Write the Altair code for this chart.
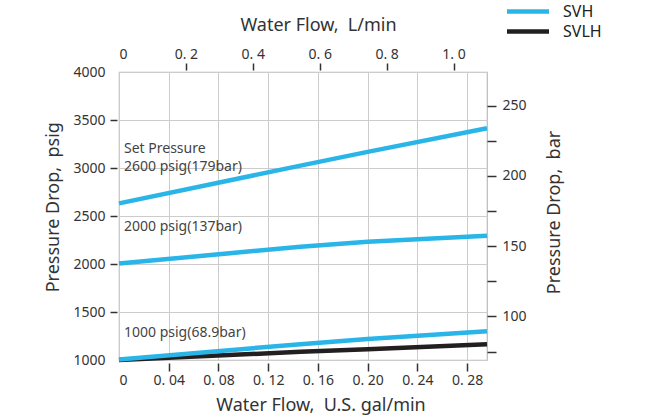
import altair as alt
import pandas as pd

# ---- data ----
flow_gpm = [0.0, 0.146, 0.200, 0.296]          # U.S. gal/min
svh_2600 = [2632, 3025, 3168, 3414]            # psig
svh_2000 = [2005, 2180, 2232, 2295]
svh_1000 = [1005, 1165, 1219, 1300]
svlh_1000 = [1000, 1085, 1112, 1164]

models = ["SVH", "SVLH"]
model_colors = ["#29b5e8", "#231f20"]

note_texts = ["Set Pressure", "2600 psig(179bar)", "2000 psig(137bar)", "1000 psig(68.9bar)"]
note_psig = [3195, 3007, 2382, 1284]
note_flow = [0.0, 0.0, 0.0, 0.0]

psig_ticks = [1000, 1250, 1500, 1750, 2000, 2250, 2500, 2750, 3000, 3250, 3500, 3750, 4000]
bar_ticks = [75, 100, 125, 150, 175, 200, 225, 250]
gpm_ticks = [0, 0.02, 0.04, 0.06, 0.08, 0.10, 0.12, 0.14, 0.16, 0.18, 0.20, 0.22, 0.24, 0.26, 0.28]
lpm_ticks = [0, 0.2, 0.4, 0.6, 0.8, 1.0]

GPM_DOMAIN = [0, 0.296]
LPM_DOMAIN = [0, 1.1]
PSIG_DOMAIN = [1000, 4000]
BAR_DOMAIN = [69, 274]
FONT = "Noto Sans"
SP = ",\u00a0 "   # wide gap after the comma, as in the reference

rows = []
for model, setp, vals in [("SVH", "2600", svh_2600), ("SVH", "2000", svh_2000),
                          ("SVH", "1000", svh_1000), ("SVLH", "1000", svlh_1000)]:
    for f, v in zip(flow_gpm, vals):
        rows.append({"model": model, "curve": model + setp, "gpm": f, "psig": v})
df = pd.DataFrame(rows)
notes = pd.DataFrame({"text": note_texts, "psig": note_psig, "gpm": note_flow})

color = alt.Color(
    "model:N",
    scale=alt.Scale(domain=models, range=model_colors),
    legend=alt.Legend(
        orient="none", legendX=399.5, legendY=-70, title=None,
        symbolType="M-3,0H3", symbolSize=196, symbolStrokeWidth=4.5,
        labelFont=FONT, labelFontSize=16, labelColor="#222",
        labelOffset=25.5, rowPadding=1, padding=0,
    ),
)

x_bottom = alt.X(
    "gpm:Q",
    scale=alt.Scale(domain=GPM_DOMAIN, nice=False, zero=False),
    axis=alt.Axis(
        orient="bottom", values=gpm_ticks, offset=3, tickSize=8, labelPadding=2,
        labelExpr="datum.value == 0 ? '0' : (round(datum.value*100) % 4 == 0 ? replace(format(datum.value, '.2f'), '.', '. ') : '')",
        tickOpacity={"condition": {"test": "datum.value == 0", "value": 0}, "value": 1},
        grid=True,
        gridOpacity={"condition": {"test": "round(datum.value*100) % 4 == 0", "value": 1}, "value": 0},
        title="Water Flow" + SP + "U.S. gal/min", titleX=201.5, titleY=42,
        titleAlign="center", titleBaseline="middle",
    ),
)
y_left = alt.Y(
    "psig:Q",
    scale=alt.Scale(domain=PSIG_DOMAIN, nice=False, zero=False),
    axis=alt.Axis(
        orient="left", values=psig_ticks, offset=2, tickSize=7, labelPadding=5, format="d",
        labelExpr="datum.value % 500 == 0 ? datum.label : ''",
        tickOpacity={"condition": {"test": "datum.value == 1000 || datum.value == 4000", "value": 0}, "value": 1},
        grid=True,
        gridOpacity={"condition": {"test": "datum.value % 500 == 0", "value": 1}, "value": 0},
        title="Pressure Drop" + SP + "psig", titleX=-64, titleY=134.7, titleAngle=-90,
        titleAlign="center", titleBaseline="middle",
    ),
)

base = alt.Chart(df)
svlh = base.transform_filter("datum.model == 'SVLH'").mark_line(strokeWidth=4.5, strokeCap="butt").encode(
    x=x_bottom, y=y_left, color=color, detail="curve:N")
svh = base.transform_filter("datum.model == 'SVH'").mark_line(strokeWidth=4.5, strokeCap="butt").encode(
    x=alt.X("gpm:Q"), y=alt.Y("psig:Q"), color=alt.Color("model:N"), detail="curve:N")

texts = alt.Chart(notes).mark_text(
    align="left", baseline="middle", dx=5, font=FONT, fontSize=14, color="#444"
).encode(x=alt.X("gpm:Q"), y=alt.Y("psig:Q"), text="text:N")

main = alt.layer(svlh, svh, texts)

ghost = base.transform_calculate(
    lpm="datum.gpm * 3.785", bar="datum.psig * 0.0689476"
).mark_point(opacity=0).encode(
    x=alt.X("lpm:Q", scale=alt.Scale(domain=LPM_DOMAIN, nice=False, zero=False),
            axis=alt.Axis(
                orient="top", values=lpm_ticks, offset=2, tickSize=7, labelPadding=2, grid=False,
                labelExpr="datum.value == 0 ? '0' : replace(format(datum.value, '.1f'), '.', '. ')",
                tickOpacity={"condition": {"test": "datum.value == 0", "value": 0}, "value": 1},
                title="Water Flow" + SP + "L/min", titleX=199, titleY=-45,
                titleAlign="center", titleBaseline="middle",
            )),
    y=alt.Y("bar:Q", scale=alt.Scale(domain=BAR_DOMAIN, nice=False, zero=False),
            axis=alt.Axis(
                orient="right", values=bar_ticks, offset=0, tickSize=9, labelPadding=6, grid=False,
                labelExpr="datum.value % 50 == 0 ? datum.label : ''",
                title="Pressure Drop" + SP + "bar", titleX=67, titleY=140, titleAngle=-90,
                titleAlign="center", titleBaseline="middle",
            )),
)

chart = alt.layer(main, ghost).resolve_scale(x="independent", y="independent").properties(
    width=368, height=288,
    padding={"left": 119, "top": 72, "right": 168, "bottom": 59},
    autosize=alt.AutoSizeParams(type="none"),
    background="white",
).configure_view(stroke="#bbbbbb", strokeWidth=1.2).configure_axis(
    domain=False,
    labelFont=FONT, labelFontSize=14, labelColor="#333",
    titleFont=FONT, titleFontSize=18, titleFontWeight="normal", titleColor="#333",
    tickColor="#333", tickWidth=1.5, gridColor="#cccccc", gridWidth=1,
)

chart.save("out.html", embed_options={"renderer": "svg", "actions": False})
